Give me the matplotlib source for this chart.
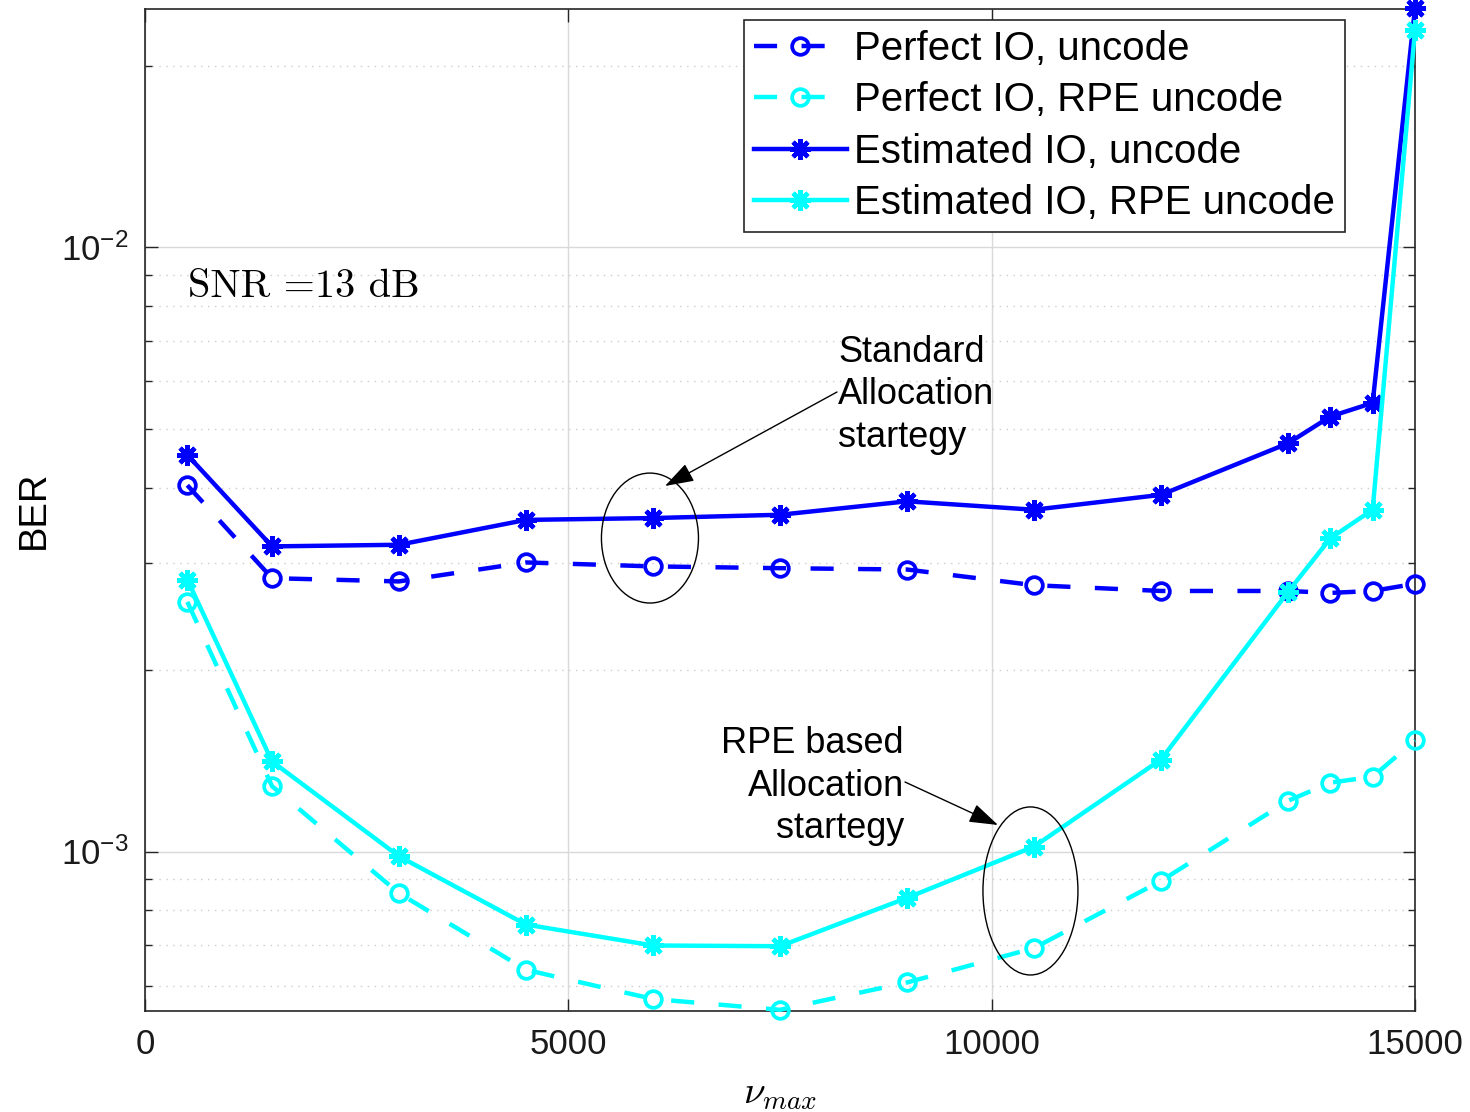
import matplotlib
matplotlib.use('Agg')
import matplotlib.pyplot as plt
from matplotlib.patches import Ellipse
from matplotlib.ticker import LogLocator, FixedLocator

# ---- data ----
nu_max = [500, 1500, 3000, 4500, 6000, 7500, 9000, 10500, 12000, 13500, 14000, 14500, 15000]
ber_perfect = [4.04e-3, 2.835e-3, 2.80e-3, 3.01e-3, 2.965e-3, 2.945e-3, 2.93e-3,
               2.76e-3, 2.70e-3, 2.70e-3, 2.68e-3, 2.70e-3, 2.775e-3]
ber_perfect_rpe = [2.59e-3, 1.283e-3, 8.53e-4, 6.37e-4, 5.70e-4, 5.47e-4, 6.07e-4,
                   6.92e-4, 8.94e-4, 1.213e-3, 1.30e-3, 1.33e-3, 1.527e-3]
ber_est = [4.535e-3, 3.20e-3, 3.22e-3, 3.54e-3, 3.565e-3, 3.61e-3, 3.80e-3,
           3.68e-3, 3.895e-3, 4.74e-3, 5.25e-3, 5.53e-3, 2.49e-2]
ber_est_rpe = [2.82e-3, 1.41e-3, 9.82e-4, 7.57e-4, 6.99e-4, 6.97e-4, 8.38e-4,
               1.019e-3, 1.42e-3, 2.69e-3, 3.30e-3, 3.68e-3, 2.29e-2]
labels = ['Perfect IO, uncode', 'Perfect IO, RPE uncode',
          'Estimated IO, uncode', 'Estimated IO, RPE uncode']
x_ticks = [0, 5000, 10000, 15000]

plt.rcParams['font.family'] = ['Liberation Sans', 'DejaVu Sans']
plt.rcParams['mathtext.fontset'] = 'custom'
plt.rcParams['mathtext.rm'] = 'Liberation Sans'
plt.rcParams['mathtext.it'] = 'Liberation Sans:italic'
plt.rcParams['mathtext.bf'] = 'Liberation Sans:bold'
plt.rcParams['axes.unicode_minus'] = False

BLUE = '#0000FF'
CYAN = '#00FFFF'

fig = plt.figure(figsize=(14.7, 11.12), dpi=100)
ax = fig.add_axes([145/1470, 1 - 1011/1112, 1270/1470, 1002/1112])
ax.set_yscale('log')

lw = 3.2
ast = (8, 2, 0)
ax.plot(nu_max, ber_perfect, color=BLUE, lw=lw, ls=(0, (5.2, 5.5)), marker='o', ms=12,
        mew=2.7, mfc='none', label=labels[0], clip_on=False, zorder=3)
ax.plot(nu_max, ber_perfect_rpe, color=CYAN, lw=lw, ls=(0, (5.2, 5.5)), marker='o', ms=12,
        mew=2.7, mfc='none', label=labels[1], clip_on=False, zorder=3)
ax.plot(nu_max, ber_est, color=BLUE, lw=lw, ls='-', marker=ast, ms=15,
        mew=3.2, label=labels[2], clip_on=False, zorder=3)
ax.plot(nu_max, ber_est_rpe, color=CYAN, lw=lw, ls='-', marker=ast, ms=15,
        mew=3.2, label=labels[3], clip_on=False, zorder=3)

ax.set_xlim(0, 15000)
ax.set_ylim(5.445e-4, 2.482e-2)
ax.xaxis.set_major_locator(FixedLocator(x_ticks))
ax.yaxis.set_major_locator(LogLocator(base=10, numticks=10))
ax.yaxis.set_minor_locator(LogLocator(base=10, subs=[2, 3, 4, 5, 6, 7, 8, 9], numticks=20))

ax.grid(True, which='major', color='#d9d9d9', lw=1.0, ls='-')
ax.grid(True, which='minor', axis='y', color='#cccccc', lw=1.0, ls=(0, (1, 4)))
ax.set_axisbelow(True)

for s in ax.spines.values():
    s.set_color('#262626')
    s.set_linewidth(1.2)
ax.tick_params(which='both', direction='in', top=True, right=True, colors='#262626',
               labelcolor='#1a1a1a', width=1.0)
ax.tick_params(which='major', length=9, labelsize=25, pad=12)
ax.tick_params(which='minor', length=5)

ax.set_ylabel('BER', fontsize=27.5)
ax.yaxis.set_label_coords((52 - 145) / 1270, 0.5)
ax.set_xlabel(r'$\nu_{max}$', fontsize=28, math_fontfamily='cm')
ax.xaxis.set_label_coords(0.5, -(1076 - 1011) / 1002)

leg = ax.legend(loc='upper right', bbox_to_anchor=(1200/1270, 991/1002), borderaxespad=0,
                fontsize=29, handlelength=2.3, handletextpad=0.18, labelspacing=0.33,
                borderpad=0.25, fancybox=False, framealpha=1, edgecolor='#262626')
leg.get_frame().set_linewidth(1.2)

# annotations
ax.text(0.0339, 0.7226, 'SNR =13 dB', transform=ax.transAxes,
        fontsize=29, fontfamily='cmr10', va='center', ha='left')

ax.add_patch(Ellipse((0.3976, 0.472), 0.0764, 0.1297, transform=ax.transAxes,
                     fill=False, ec='black', lw=1.0, zorder=4))
ax.add_patch(Ellipse((0.6972, 0.1198), 0.0748, 0.1677, transform=ax.transAxes,
                     fill=False, ec='black', lw=1.0, zorder=4))

ax.text(0.5457, 0.6148, 'Standard\nAllocation\nstartegy', transform=ax.transAxes,
        fontsize=26, va='center', ha='left', linespacing=1.28)
ax.text(0.5976, 0.2245, 'RPE based\nAllocation\nstartegy', transform=ax.transAxes,
        fontsize=26, va='center', ha='right', linespacing=1.28)

arrow = dict(arrowstyle='-|>,head_length=0.9,head_width=0.3', color='black', lw=1.0,
             shrinkA=0, shrinkB=0, mutation_scale=20)
ax.annotate('', xy=((665-145)/1270, (1011-486)/1002), xytext=((837-145)/1270, (1011-392)/1002),
            xycoords='axes fraction', textcoords='axes fraction', arrowprops=arrow)
ax.annotate('', xy=((998-145)/1270, (1011-825)/1002), xytext=((905-145)/1270, (1011-782)/1002),
            xycoords='axes fraction', textcoords='axes fraction', arrowprops=arrow)

fig.savefig('out.png', dpi=100)
